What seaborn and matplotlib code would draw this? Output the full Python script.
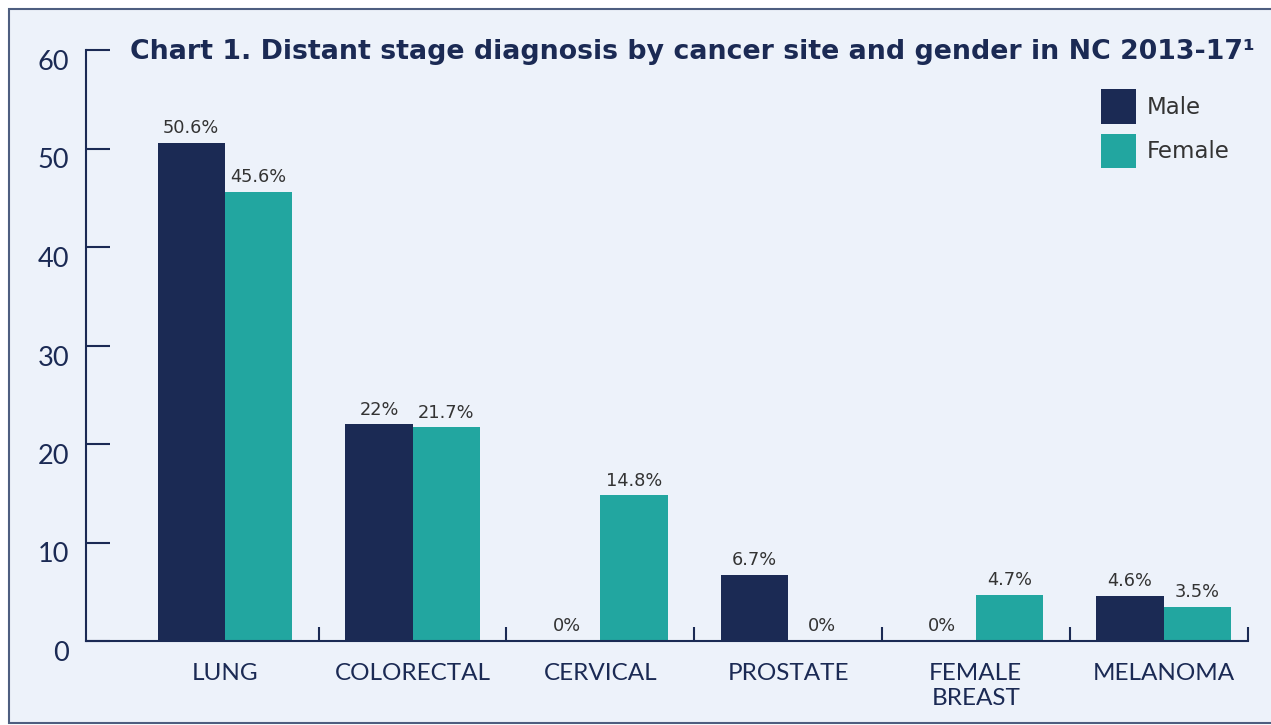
import numpy as np
import pandas as pd
import matplotlib
matplotlib.use("Agg")
import matplotlib.pyplot as plt
import matplotlib.transforms as mtransforms
from matplotlib.patches import Rectangle
import seaborn as sns

# chart values
sites = ["LUNG", "COLORECTAL", "CERVICAL", "PROSTATE", "FEMALE\nBREAST", "MELANOMA"]
male = [50.6, 22, 0, 6.7, 0, 4.6]
female = [45.6, 21.7, 14.8, 0, 4.7, 3.5]
male_labels = ["50.6%", "22%", "0%", "6.7%", "0%", "4.6%"]
female_labels = ["45.6%", "21.7%", "14.8%", "0%", "4.7%", "3.5%"]
yticks = [0, 10, 20, 30, 40, 50, 60]

navy = "#1B2A54"
teal = "#22A6A0"
bg = "#EDF2FA"
txt = "#333333"

df = pd.DataFrame({"site": sites * 2,
                   "pct": male + female,
                   "gender": ["Male"] * len(sites) + ["Female"] * len(sites)})

sns.set_style("white")
plt.rcParams["font.family"] = ["DejaVu Sans"]

fig = plt.figure(figsize=(12.71, 7.25), dpi=100, facecolor="white")
# panel background with border
fig.patches.append(Rectangle((9 / 1271, 2 / 725), 1.01, 714 / 725, transform=fig.transFigure,
                             facecolor=bg, edgecolor="#4E5E80", lw=1.5, zorder=-10))

ax = fig.add_axes([86 / 1271, 84 / 725, (1248 - 86) / 1271, (641 - 50) / 725])
ax.set_facecolor("none")

sns.barplot(data=df, x="site", y="pct", hue="gender", palette=[navy, teal],
            width=0.717, gap=0, saturation=1, linewidth=0, ax=ax)

for cont, labs in zip(ax.containers, [male_labels, female_labels]):
    ax.bar_label(cont, labels=labs, padding=4, fontsize=12.8, color=txt)

ax.set_xlim(-0.74, 5.45)
ax.set_ylim(0, 60)
ax.set_yticks(yticks)
ax.set_xlabel("")
ax.set_ylabel("")

for s in ["top", "right"]:
    ax.spines[s].set_visible(False)
for s in ["left", "bottom"]:
    ax.spines[s].set_color(navy)
    ax.spines[s].set_linewidth(1.5)

ax.tick_params(axis="y", left=True, direction="in", length=17, width=1.5, color=navy,
               labelsize=19.5, labelcolor=navy, pad=12)
ax.tick_params(axis="x", bottom=True, length=0, labelsize=17.5, labelcolor=navy, pad=16)
ax.set_xticks(np.arange(len(sites)))
ax.set_xticklabels(sites, family="Lato", linespacing=1.2)
for lab in ax.get_yticklabels():
    lab.set_family("Lato")
    lab.set_transform(lab.get_transform() +
                      mtransforms.ScaledTranslation(0, -0.10, fig.dpi_scale_trans))

# category separators
ax.set_xticks([0.5, 1.5, 2.5, 3.5, 4.5, 5.45], minor=True)
ax.tick_params(axis="x", which="minor", bottom=True, direction="in", length=10,
               width=1.5, color=navy)

leg = ax.legend(loc="upper left", bbox_to_anchor=(1101 / 1271, 1 - 89 / 725),
                bbox_transform=fig.transFigure, frameon=False, fontsize=16.5,
                handlelength=1.52, handleheight=1.96, labelspacing=0.43,
                handletextpad=0.48, borderaxespad=0, borderpad=0)
for t in leg.get_texts():
    t.set_color(txt)

fig.text(130 / 1271, 1 - 59 / 725,
         "Chart 1. Distant stage diagnosis by cancer site and gender in NC 2013-17\u00b9",
         fontsize=19.3, fontweight="bold", color=navy, va="baseline", ha="left")

fig.savefig("out.png", dpi=100, facecolor="white")
